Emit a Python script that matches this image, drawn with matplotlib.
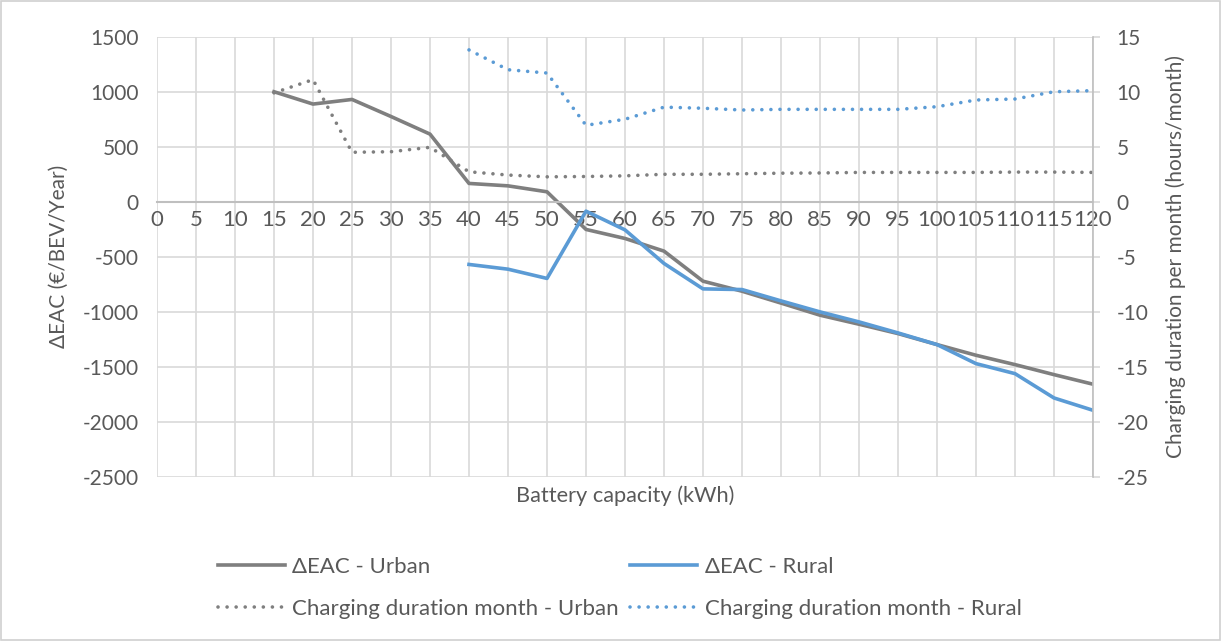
import matplotlib
matplotlib.use("Agg")
import matplotlib.pyplot as plt
from matplotlib.patches import Rectangle

plt.rcParams['font.family'] = ['Lato', 'DejaVu Sans']
plt.rcParams['axes.unicode_minus'] = False

capacity_urban = [15, 20, 25, 30, 35, 40, 45, 50, 55, 60, 65, 70, 75, 80, 85, 90, 95, 100, 105, 110, 115, 120]
eac_urban = [1000, 888, 930, 775, 615, 167, 145, 91, -251, -333, -448, -721, -812, -920, -1030, -1112, -1197, -1297, -1394, -1479, -1570, -1657]
charge_urban = [9.9, 11.1, 4.5, 4.55, 4.95, 2.73, 2.43, 2.27, 2.3, 2.36, 2.5, 2.5, 2.55, 2.6, 2.62, 2.67, 2.67, 2.67, 2.67, 2.7, 2.7, 2.67]

capacity_rural = [40, 45, 50, 55, 60, 65, 70, 75, 80, 85, 90, 95, 100, 105, 110, 115, 120]
eac_rural = [-569, -612, -696, -85, -255, -560, -791, -797, -900, -1000, -1091, -1191, -1297, -1470, -1561, -1782, -1894]
charge_rural = [13.8, 12.0, 11.7, 6.95, 7.5, 8.6, 8.5, 8.34, 8.4, 8.4, 8.4, 8.4, 8.64, 9.25, 9.34, 10.0, 10.1]

x_ticks = list(range(0, 121, 5))
left_ticks = list(range(-2500, 1501, 500))
right_ticks = list(range(-25, 16, 5))

GRAY = '#7f7f7f'
BLUE = '#5b9bd5'
GRID = '#d9d9d9'
TXT = '#595959'
FS = 15

fig = plt.figure(figsize=(12.21, 6.41), dpi=100)
fig.patches.append(Rectangle((0.001, 0.001), 0.998, 0.997, transform=fig.transFigure,
                             fill=False, edgecolor='#d0d0d0', linewidth=1.2))
ax = fig.add_axes([157/1221, 1-477/641, (1093-157)/1221, (477-36.7)/641])
ax2 = ax.twinx()

ax.set_xlim(0, 120)
ax.set_ylim(-2500, 1500)
ax2.set_ylim(-25, 15)
ax.set_xticks(x_ticks)
ax.set_yticks(left_ticks)
ax2.set_yticks(right_ticks)

ax.grid(True, color=GRID, linewidth=1.2)
ax.set_axisbelow(True)
for s in ['top', 'left', 'right']:
    ax.spines[s].set_visible(False)
for s in ['top', 'left', 'bottom']:
    ax2.spines[s].set_visible(False)
ax2.spines['right'].set_color('#bfbfbf')
ax2.spines['right'].set_linewidth(1.2)
ax.spines['bottom'].set_position(('data', 0))
ax.spines['bottom'].set_color('#bfbfbf')
ax.spines['bottom'].set_linewidth(1.5)

ax.tick_params(axis='x', length=0, pad=6, labelsize=16, labelcolor=TXT)
ax.tick_params(axis='y', length=0, pad=13, labelsize=FS, labelcolor=TXT)
ax2.tick_params(axis='y', length=5, color=GRID, width=1.2, pad=12, labelsize=FS, labelcolor=TXT)

l1, = ax.plot(capacity_urban, eac_urban, color=GRAY, linewidth=2.6, label='ΔEAC - Urban')
l2, = ax.plot(capacity_rural, eac_rural, color=BLUE, linewidth=2.6, label='ΔEAC - Rural')
dots = (0, (0.01, 2.5))
l3, = ax2.plot(capacity_urban, charge_urban, color=GRAY, linewidth=2.6, linestyle=dots,
               dash_capstyle='round', label='Charging duration month - Urban')
l4, = ax2.plot(capacity_rural, charge_rural, color=BLUE, linewidth=2.6, linestyle=dots,
               dash_capstyle='round', label='Charging duration month - Rural')

ax.set_ylabel('ΔEAC (€/BEV/Year)', fontsize=FS, color=TXT, labelpad=10)
ax2.set_ylabel('Charging duration per month (hours/month)', fontsize=FS, color=TXT, labelpad=12)
ax.text(0.5, -0.043, 'Battery capacity (kWh)', transform=ax.transAxes, ha='center', va='center',
        fontsize=15.7, color=TXT)

leg = fig.legend([l1, l3, l2, l4], [h.get_label() for h in [l1, l3, l2, l4]],
                 ncol=2, loc='upper left', bbox_to_anchor=(198/1221, 1-537/641),
                 frameon=False, fontsize=16, handlelength=3.0, handletextpad=0.35,
                 labelspacing=1.0, columnspacing=0.5)
for t in leg.get_texts():
    t.set_color(TXT)

fig.savefig('out.png', dpi=100)
